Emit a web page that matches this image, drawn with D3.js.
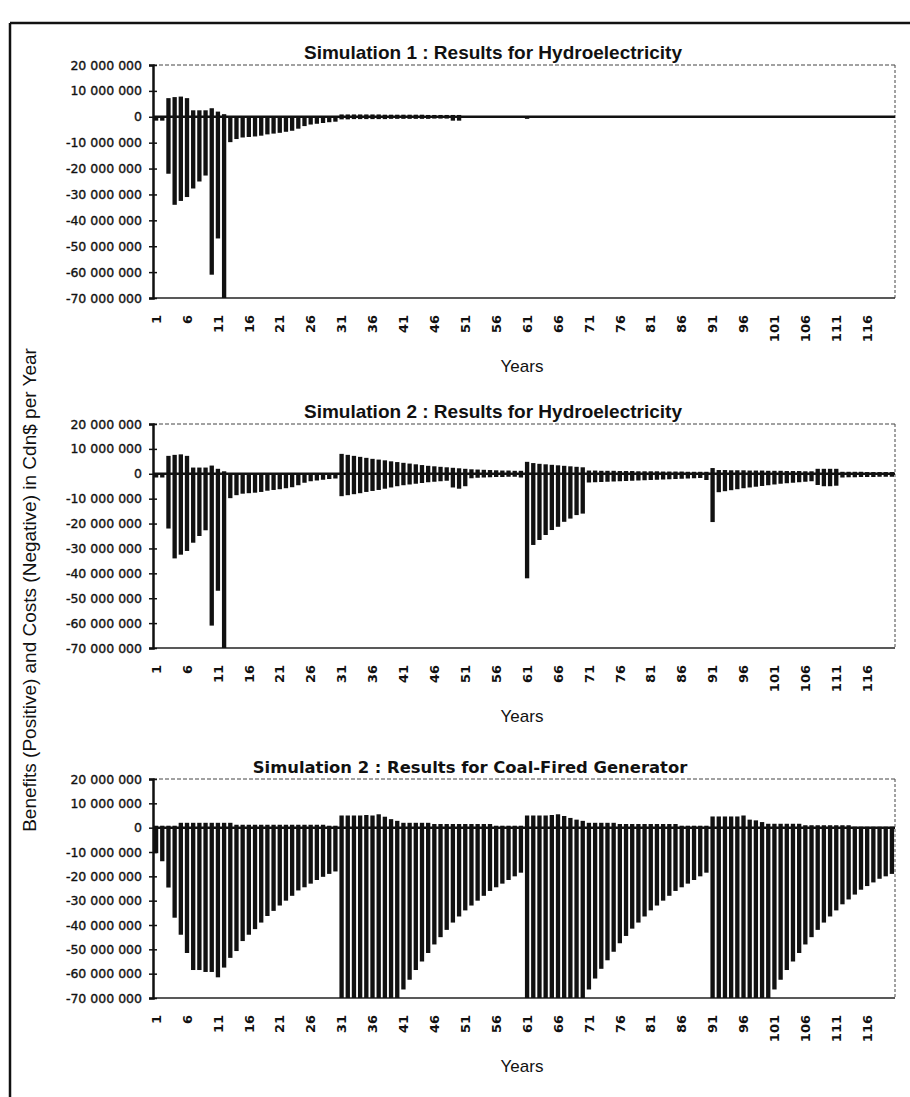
<!DOCTYPE html>
<html>
<head>
<meta charset="utf-8">
<script src="https://cdn.jsdelivr.net/npm/d3@7"></script>
<style>
  body { margin: 0; background: #fff; }
</style>
</head>
<body>
<div id="chart"></div>
<script>

const width = 910
const height = 1097

// years 1..120
const years = d3.range(1, 121)
const xTickLabels = [1, 6, 11, 16, 21, 26, 31, 36, 41, 46, 51, 56, 61, 66, 71, 76, 81, 86, 91, 96, 101, 106, 111, 116]
const yTicks = [20, 10, 0, -10, -20, -30, -40, -50, -60, -70]   // millions

const titles = [
    "Simulation 1 : Results for Hydroelectricity",
    "Simulation 2 : Results for Hydroelectricity",
    "Simulation 2 : Results for Coal-Fired Generator"
]

// values in millions of Cdn$
const hydro1Benefits = [
    0, 0, 7.2, 7.6, 7.8, 7.2, 2.5, 2.5, 2.5, 3.3,
    2.0, 1.0, 0.2, 0.2, 0.2, 0.2, 0.2, 0.2, 0.2, 0.2,
    0.2, 0.2, 0.2, 0.2, 0.2, 0.2, 0.2, 0.2, 0.2, 0.2,
    0.9, 0.9, 0.9, 0.9, 0.9, 0.9, 0.9, 0.8, 0.8, 0.8,
    0.8, 0.8, 0.8, 0.8, 0.7, 0.7, 0.7, 0.7, 0.7, 0.7,
    0, 0, 0, 0, 0, 0, 0, 0, 0, 0,
    0, 0, 0, 0, 0, 0, 0, 0, 0, 0,
    0, 0, 0, 0, 0, 0, 0, 0, 0, 0,
    0, 0, 0, 0, 0, 0, 0, 0, 0, 0,
    0, 0, 0, 0, 0, 0, 0, 0, 0, 0,
    0, 0, 0, 0, 0, 0, 0, 0, 0, 0,
    0, 0, 0, 0, 0, 0, 0, 0, 0, 0
]
const hydro1Costs = [
    -1.5, -1.5, -22.0, -34.0, -32.5, -31.0, -27.7, -25.0, -22.7, -61.0,
    -47.0, -70.0, -9.8, -8.6, -8.0, -7.8, -7.6, -7.3, -6.8, -6.5,
    -6.2, -5.8, -5.4, -4.6, -3.6, -3.0, -2.7, -2.4, -2.1, -1.9,
    -1.0, -1.0, -0.9, -0.9, -0.9, -0.9, -0.9, -0.9, -0.8, -0.8,
    -0.8, -0.8, -0.8, -0.8, -0.8, -0.7, -0.7, -0.7, -1.5, -1.5,
    -0.2, -0.2, -0.2, -0.2, -0.2, -0.2, -0.2, -0.2, -0.2, -0.2,
    -0.8, -0.1, -0.1, -0.1, -0.1, -0.1, -0.1, -0.1, -0.1, -0.1,
    -0.1, -0.1, -0.1, -0.1, -0.1, -0.1, -0.1, -0.1, -0.1, -0.1,
    -0.1, -0.1, -0.1, -0.1, -0.1, -0.1, -0.1, -0.1, -0.1, -0.1,
    -0.1, -0.1, -0.1, -0.1, -0.1, -0.1, -0.1, -0.3, -0.3, -0.3,
    -0.3, -0.3, -0.3, -0.3, -0.3, -0.3, -0.3, -0.1, -0.1, -0.1,
    -0.1, -0.1, -0.1, -0.1, -0.1, -0.1, -0.1, -0.1, -0.1, -0.1
]

const hydro2Benefits = [
    0, 0, 7.2, 7.6, 7.8, 7.2, 2.5, 2.5, 2.5, 3.3,
    2.0, 1.0, 0.2, 0.2, 0.2, 0.2, 0.2, 0.2, 0.2, 0.2,
    0.2, 0.2, 0.2, 0.2, 0.2, 0.2, 0.2, 0.2, 0.2, 0.2,
    8.0, 7.6, 7.2, 6.8, 6.4, 6.0, 5.7, 5.4, 5.0, 4.7,
    4.4, 4.1, 3.8, 3.5, 3.2, 3.0, 2.8, 2.6, 2.4, 2.2,
    2.0, 1.8, 1.7, 1.6, 1.5, 1.4, 1.3, 1.3, 1.2, 1.2,
    4.8, 4.3, 4.0, 3.8, 3.6, 3.4, 3.2, 3.0, 2.8, 2.6,
    1.3, 1.3, 1.2, 1.2, 1.2, 1.1, 1.1, 1.1, 1.0, 1.0,
    1.0, 1.0, 0.9, 0.9, 0.9, 0.9, 0.8, 0.8, 0.8, 0.8,
    2.3, 1.5, 1.5, 1.4, 1.4, 1.4, 1.3, 1.3, 1.3, 1.2,
    1.2, 1.2, 1.1, 1.1, 1.1, 1.0, 1.0, 2.0, 2.0, 2.0,
    2.0, 0.8, 0.8, 0.8, 0.8, 0.7, 0.7, 0.7, 0.7, 0.7
]
const hydro2Costs = [
    -1.5, -1.5, -22.0, -34.0, -32.5, -31.0, -27.7, -25.0, -22.7, -61.0,
    -47.0, -70.0, -9.8, -8.6, -8.0, -7.8, -7.6, -7.3, -6.8, -6.5,
    -6.2, -5.8, -5.4, -4.6, -3.6, -3.0, -2.7, -2.4, -2.1, -1.9,
    -9.0, -8.6, -8.2, -7.8, -7.3, -6.9, -6.5, -6.0, -5.5, -5.0,
    -4.6, -4.3, -4.0, -3.7, -3.4, -3.2, -3.0, -2.8, -5.5, -6.0,
    -5.0, -1.8, -1.6, -1.5, -1.4, -1.3, -1.3, -1.2, -1.2, -1.5,
    -42.0, -28.6, -26.6, -24.6, -22.6, -21.3, -19.3, -18.0, -16.6, -16.0,
    -3.5, -3.4, -3.3, -3.2, -3.1, -3.0, -2.9, -2.8, -2.7, -2.6,
    -2.5, -2.4, -2.3, -2.2, -2.1, -2.0, -1.9, -1.8, -1.7, -2.5,
    -19.4, -7.4, -7.0, -6.6, -6.2, -5.8, -5.5, -5.2, -4.9, -4.6,
    -4.3, -4.0, -3.8, -3.6, -3.4, -3.2, -3.0, -4.5, -5.0, -5.0,
    -4.8, -1.5, -1.4, -1.4, -1.3, -1.3, -1.3, -1.2, -1.2, -1.2
]

const coalBenefits = [
    0.8, 0.8, 0.8, 0.8, 2.0, 2.0, 2.0, 2.0, 2.0, 2.0,
    2.0, 2.0, 2.0, 1.2, 1.2, 1.2, 1.2, 1.2, 1.2, 1.2,
    1.2, 1.2, 1.2, 1.2, 1.2, 1.2, 1.2, 1.2, 0.8, 0.8,
    5.0, 5.0, 5.0, 5.0, 5.2, 5.0, 5.5, 4.5, 3.5, 2.8,
    2.0, 2.0, 2.0, 2.0, 2.0, 1.5, 1.5, 1.5, 1.5, 1.5,
    1.5, 1.5, 1.5, 1.5, 1.5, 0.8, 0.8, 0.8, 0.8, 0.8,
    5.0, 5.0, 5.0, 5.0, 5.2, 5.5, 4.8, 4.0, 3.3, 2.8,
    2.0, 2.0, 2.0, 2.0, 2.0, 1.5, 1.5, 1.5, 1.5, 1.5,
    1.5, 1.5, 1.5, 1.5, 1.5, 0.8, 0.8, 0.8, 0.8, 0.8,
    4.6, 4.6, 4.6, 4.6, 4.6, 5.0, 3.3, 3.0, 2.3, 1.6,
    1.6, 1.6, 1.6, 1.6, 1.6, 1.0, 1.0, 1.0, 1.0, 1.0,
    1.0, 1.0, 1.0, 0.4, 0.4, 0.4, 0.4, 0.4, 0.4, 0.4
]
const coalCosts = [
    -10.5, -13.8, -24.6, -37.0, -44.0, -51.5, -58.5, -58.5, -59.3, -59.3,
    -61.5, -57.5, -53.5, -50.7, -46.6, -44.0, -41.7, -39.0, -36.3, -34.2,
    -32.0, -30.0, -28.0, -25.8, -24.5, -23.0, -21.5, -20.2, -19.0, -18.0,
    -70, -70, -70, -70, -70, -70, -70, -70, -70, -70,
    -66.5, -62.5, -58.5, -55.0, -51.5, -48.0, -45.0, -42.0, -39.0, -36.5,
    -34.0, -32.0, -30.0, -28.0, -26.0, -24.5, -23.0, -21.5, -20.0, -18.5,
    -70, -70, -70, -70, -70, -70, -70, -70, -70, -70,
    -66.5, -62.0, -58.0, -54.5, -51.0, -47.5, -44.5, -41.5, -39.0, -36.5,
    -34.0, -32.0, -30.0, -28.0, -26.0, -24.5, -23.0, -21.5, -20.0, -18.5,
    -70, -70, -70, -70, -70, -70, -70, -70, -70, -70,
    -66.5, -62.5, -58.5, -55.0, -51.5, -48.0, -45.0, -42.0, -39.0, -36.5,
    -34.0, -31.5, -29.5, -27.5, -25.5, -24.0, -22.5, -21.0, -20.0, -19.0
]

const plotLeft = 153
const plotRight = 895

const panels = [
    {title: titles[0], benefits: hydro1Benefits, costs: hydro1Costs, top: 65, bottom: 298,
     titleFont: "'Liberation Sans', Arial, sans-serif", titleSize: 19, titleX: 493},
    {title: titles[1], benefits: hydro2Benefits, costs: hydro2Costs, top: 424, bottom: 648,
     titleFont: "'Liberation Sans', Arial, sans-serif", titleSize: 19, titleX: 493},
    {title: titles[2], benefits: coalBenefits, costs: coalCosts, top: 779, bottom: 998,
     titleFont: "'DejaVu Sans', Verdana, sans-serif", titleSize: 16.4, titleX: 470}
]

const svg = d3.select("#chart").append("svg")
    .attr("width", width).attr("height", height)
    .style("background", "#fff")

// page frame
svg.append("line").attr("x1", 10).attr("x2", 10).attr("y1", 23).attr("y2", height)
    .attr("stroke", "#111").attr("stroke-width", 2.5)
svg.append("line").attr("x1", 10).attr("x2", width).attr("y1", 23).attr("y2", 23)
    .attr("stroke", "#111").attr("stroke-width", 2.5)

// shared y title
svg.append("text")
    .attr("transform", "translate(36, 590) rotate(-90)")
    .attr("text-anchor", "middle")
    .style("font-family", "'Liberation Sans', Arial, sans-serif")
    .style("font-size", "19px")
    .attr("fill", "#111")
    .text("Benefits (Positive) and Costs (Negative) in Cdn$ per Year")

const fmt = d => d3.format(",")(d * 1e6).replace(/,/g, " ").replace("−", "-")

const x = d3.scaleBand().domain(years).range([plotLeft, plotRight]).paddingInner(0.3).paddingOuter(0.15)

panels.forEach(p => {
    const g = svg.append("g")
    const y = d3.scaleLinear().domain([-70, 20]).range([p.bottom, p.top]).clamp(true)

    // plot area border (top/right dotted, bottom solid)
    g.append("line").attr("x1", plotLeft).attr("x2", plotRight).attr("y1", p.top).attr("y2", p.top)
        .attr("stroke", "#444").attr("stroke-width", 1).attr("stroke-dasharray", "4,2")
    g.append("line").attr("x1", plotRight).attr("x2", plotRight).attr("y1", p.top).attr("y2", p.bottom)
        .attr("stroke", "#444").attr("stroke-width", 1).attr("stroke-dasharray", "3,2")
    g.append("line").attr("x1", plotLeft).attr("x2", plotRight).attr("y1", p.bottom).attr("y2", p.bottom)
        .attr("stroke", "#222").attr("stroke-width", 1.5)

    // bars
    g.selectAll("rect.benefit").data(years).enter().append("rect")
        .attr("class", "benefit")
        .attr("x", d => x(d))
        .attr("width", x.bandwidth())
        .attr("y", (d, i) => y(p.benefits[i]))
        .attr("height", (d, i) => y(0) - y(p.benefits[i]))
        .attr("fill", "#111")
    g.selectAll("rect.cost").data(years).enter().append("rect")
        .attr("class", "cost")
        .attr("x", d => x(d))
        .attr("width", x.bandwidth())
        .attr("y", y(0))
        .attr("height", (d, i) => y(p.costs[i]) - y(0))
        .attr("fill", "#111")

    // zero line
    g.append("line").attr("x1", plotLeft).attr("x2", plotRight).attr("y1", y(0)).attr("y2", y(0))
        .attr("stroke", "#111").attr("stroke-width", 2.5)

    // y axis
    const yAxis = d3.axisLeft(y).tickValues(yTicks).tickSize(4).tickPadding(7).tickFormat(fmt)
    const yg = g.append("g").attr("transform", `translate(${plotLeft}, 0)`).call(yAxis)
    yg.select(".domain").attr("stroke", "#111").attr("stroke-width", 2.5)
    yg.selectAll(".tick line").attr("x1", 4).attr("x2", -4).attr("stroke", "#111").attr("stroke-width", 1.5)
    yg.selectAll(".tick text")
        .style("font-family", "'DejaVu Sans', Verdana, sans-serif")
        .style("font-size", "12.5px")
        .attr("fill", "#111")
        .attr("stroke", "#111")
        .attr("stroke-width", 0.35)

    // x axis labels
    const xAxis = d3.axisBottom(x).tickValues(xTickLabels).tickSize(0)
    const xg = g.append("g").attr("transform", `translate(0, ${p.bottom})`).call(xAxis)
    xg.select(".domain").remove()
    xg.selectAll(".tick text")
        .attr("transform", "rotate(-90)")
        .attr("text-anchor", "end")
        .attr("x", -17)
        .attr("y", 0)
        .attr("dy", "0.36em")
        .style("font-family", "'DejaVu Sans', Verdana, sans-serif")
        .style("font-size", "13px")
        .style("font-weight", "bold")
        .attr("fill", "#111")

    // title
    g.append("text")
        .attr("x", p.titleX)
        .attr("y", p.top - 6)
        .attr("text-anchor", "middle")
        .style("font-family", p.titleFont)
        .style("font-size", p.titleSize + "px")
        .style("font-weight", "bold")
        .attr("fill", "#111")
        .text(p.title)

    // x title
    g.append("text")
        .attr("x", 522)
        .attr("y", p.bottom + 74)
        .attr("text-anchor", "middle")
        .style("font-family", "'Liberation Sans', Arial, sans-serif")
        .style("font-size", "17px")
        .attr("fill", "#111")
        .text("Years")
})

</script>
</body>
</html>
